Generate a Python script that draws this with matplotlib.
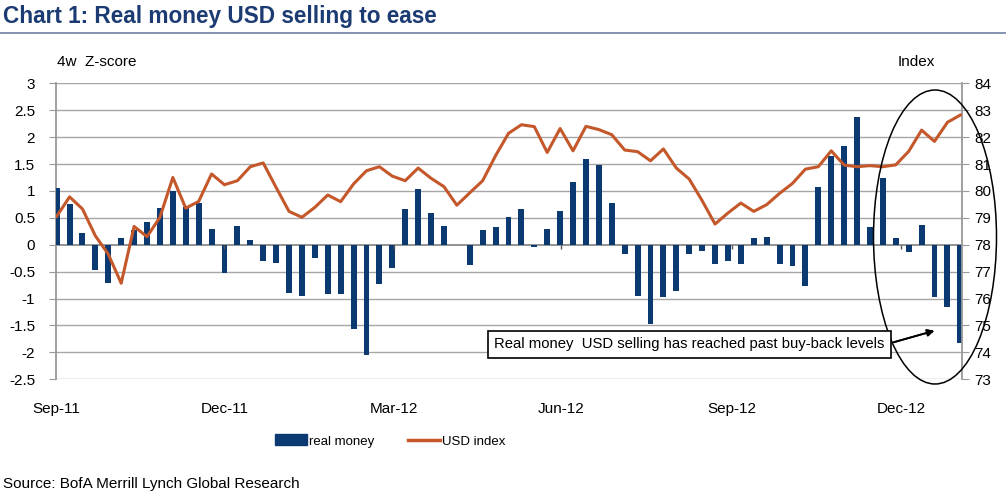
import matplotlib
matplotlib.use("Agg")
import matplotlib.pyplot as plt
from matplotlib.patches import Ellipse, Patch
from matplotlib.lines import Line2D
import numpy as np

plt.rcParams['font.family'] = ['Liberation Sans', 'DejaVu Sans']

# ---- data ----
real_money = [1.05, 0.76, 0.21, -0.47, -0.71, 0.13, 0.28, 0.43, 0.69, 0.99,
              0.71, 0.77, 0.30, -0.53, 0.35, 0.09, -0.30, -0.33, -0.89, -0.95,
              -0.24, -0.92, -0.92, -1.57, -2.04, -0.73, -0.44, 0.66, 1.03, 0.59,
              0.35, 0.0, -0.38, 0.27, 0.33, 0.51, 0.66, -0.05, 0.30, 0.63,
              1.16, 1.60, 1.49, 0.77, -0.17, -0.95, -1.47, -0.98, -0.86, -0.17,
              -0.11, -0.35, -0.30, -0.35, 0.12, 0.15, -0.35, -0.39, -0.76, 1.07,
              1.65, 1.84, 2.37, 0.33, 1.24, 0.12, -0.14, 0.36, -0.98, -1.15,
              -1.83]
usd_index = [79.05, 79.78, 79.33, 78.33, 77.65, 76.57, 78.68, 78.30, 79.02, 80.50,
             79.36, 79.61, 80.63, 80.23, 80.38, 80.90, 81.04, 80.13, 79.24, 79.02,
             79.39, 79.85, 79.60, 80.26, 80.75, 80.90, 80.55, 80.38, 80.85, 80.47,
             80.16, 79.47, 79.93, 80.38, 81.31, 82.14, 82.46, 82.39, 81.43, 82.32,
             81.49, 82.40, 82.28, 82.09, 81.52, 81.46, 81.12, 81.56, 80.85, 80.44,
             79.64, 78.77, 79.18, 79.55, 79.24, 79.49, 79.91, 80.28, 80.81, 80.90,
             81.49, 80.96, 80.90, 80.94, 80.90, 80.97, 81.47, 82.26, 81.84, 82.55,
             82.82]
date_labels = ['Sep-11', 'Dec-11', 'Mar-12', 'Jun-12', 'Sep-12', 'Dec-12']
date_label_pos = [0, 13.0, 26.1, 39.1, 52.3, 65.4]
left_ticks = [-2.5, -2, -1.5, -1, -0.5, 0, 0.5, 1, 1.5, 2, 2.5, 3]
right_ticks = list(range(73, 85))

NAVY = '#0b3a73'
ORANGE = '#c4582a'
GRID = '#a6a6a6'
W, H = 1006, 497

fig = plt.figure(figsize=(W / 100, H / 100), dpi=100)
ax = fig.add_axes([56 / W, 1 - 379.3 / H, (962 - 56) / W, (379.3 - 83.3) / H])

x = np.arange(len(real_money))
ax.bar(x, real_money, width=0.46, color=NAVY, zorder=3)
ax.set_xlim(-0.05, 70.13)
ax.set_ylim(-2.5, 3)
ax.set_yticks(left_ticks)
ax.set_yticklabels([('%g' % t) for t in left_ticks], fontsize=11)
for t in left_ticks:
    if t != 0:
        ax.axhline(t, color=GRID, lw=1.0, zorder=1)
ax.axhline(0, color='#808080', lw=1.2, zorder=2)
ax.set_xticks([])
for p, lab in zip(date_label_pos, date_labels):
    ax.text(p, -3.05, lab, ha='center', va='center', fontsize=11, clip_on=False)
ax.plot(date_label_pos[1:], [0] * 5, linestyle='none', marker=3, ms=3,
        color='#555555', zorder=4)
for s in ['top', 'bottom']:
    ax.spines[s].set_visible(False)
ax.spines['left'].set_color('#999999')
ax.spines['left'].set_linewidth(1.3)
ax.spines['right'].set_visible(False)
ax.tick_params(axis='y', length=5, color='#999999', pad=10, labelcolor='black')

ax2 = ax.twinx()
ax2.plot(x, usd_index, color=ORANGE, lw=2.2, zorder=5)
ax2.set_ylim(73, 84)
ax2.set_yticks(right_ticks)
ax2.set_yticklabels([str(t) for t in right_ticks], fontsize=11)
ax2.tick_params(axis='y', length=5, color='#999999', pad=4)
for s in ['top', 'bottom', 'left']:
    ax2.spines[s].set_visible(False)
ax2.spines['right'].set_color('#999999')
ax2.spines['right'].set_linewidth(1.3)
ax2.set_xlim(ax.get_xlim())

# titles & labels
fig.text(3 / W, 1 - 17 / H, 'Chart 1: Real money USD selling to ease',
         fontsize=16.3, fontweight='bold', color='#1b3b72', ha='left', va='center')
fig.add_artist(Line2D([0, 1], [1 - 33.5 / H, 1 - 33.5 / H], color='#6f7fa3', lw=1.2))
fig.text(57 / W, 1 - 62 / H, '4w  Z-score', fontsize=11, ha='left', va='center')
fig.text(916 / W, 1 - 62 / H, 'Index', fontsize=11, ha='center', va='center')
fig.text(3 / W, 1 - 484 / H, 'Source: BofA Merrill Lynch Global Research',
         fontsize=11, ha='left', va='center')

# annotation box and arrow
fig.text(689.5 / W, 1 - 344.3 / H,
         'Real money  USD selling has reached past buy-back levels',
         fontsize=10.7, ha='center', va='center',
         bbox=dict(boxstyle='square,pad=0.42', fc='white', ec='black', lw=1.2),
         zorder=10)
fig.add_artist(plt.annotate('', xy=(937 / W, 1 - 330 / H), xycoords='figure fraction',
                            xytext=(891 / W, 1 - 343 / H), textcoords='figure fraction',
                            arrowprops=dict(arrowstyle='-|>', color='black', lw=1.3,
                                            mutation_scale=10)))

# ellipse
fig.add_artist(Ellipse((935 / W, 1 - 237 / H), 123 / W, 294 / H,
                       transform=fig.transFigure, fill=False, ec='black', lw=1.1))

# legend
handles = [Patch(facecolor=NAVY, edgecolor=NAVY), Line2D([], [], color=ORANGE, lw=2.5)]
fig.legend(handles, ['real money', 'USD index'], loc='center',
           bbox_to_anchor=(390 / W, 1 - 441 / H), ncol=2, frameon=False,
           fontsize=9.5, handlelength=2.4, handleheight=0.9,
           handletextpad=0.15, columnspacing=2.6)

fig.savefig('out.png', dpi=100)
